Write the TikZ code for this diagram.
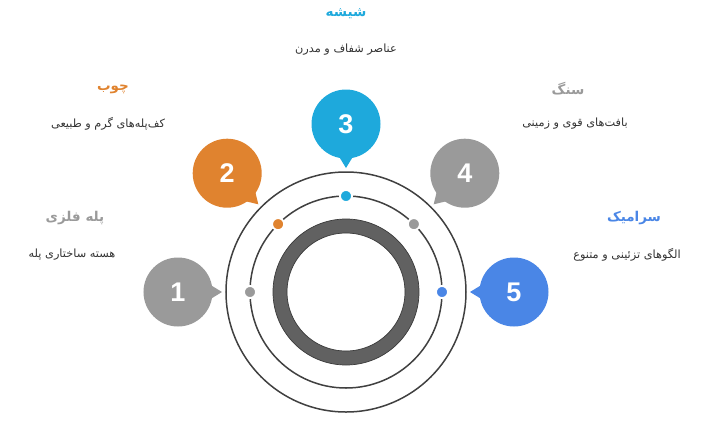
\documentclass[tikz,border=0pt]{standalone}
\usepackage{fontspec}
\newfontfamily\arabicfont[Script=Arabic]{DejaVu Sans}
\newfontfamily\numfont{Liberation Sans}
\TeXXeTstate=1
\definecolor{pgray}{HTML}{9A9A9A}
\definecolor{porange}{HTML}{E0832F}
\definecolor{psky}{HTML}{1EA9DC}
\definecolor{pblue}{HTML}{4A86E6}
\definecolor{ringgray}{HTML}{616161}
\definecolor{ringdark}{HTML}{3A3A3A}

\begin{document}
\begin{tikzpicture}[x=1pt,y=1pt,
  bubble/.style={circle,minimum size=69pt,inner sep=0pt,text=white,font=\numfont\bfseries\fontsize{27}{27}\selectfont},
  dot/.style={circle,minimum size=12pt,inner sep=0pt,draw=white,line width=1.8pt},
  title/.style={font=\arabicfont\bfseries\fontsize{13.5}{15}\selectfont},
  desc/.style={font=\arabicfont\fontsize{11.3}{13}\selectfont,text=black!80}]
\useasboundingbox (-346,-132) rectangle (368,292);

% rings
\draw[line width=1.5pt,black!75] (0,0) circle (120pt);
\draw[line width=1.5pt,black!75] (0,0) circle (96pt);
\draw[line width=14pt,ringgray] (0,0) circle (66pt);
\draw[ringdark,line width=0.7pt] (0,0) circle (73pt) (0,0) circle (59pt);

% bubbles and dots
\foreach \a/\n/\c in {180/1/pgray,135/2/porange,90/3/psky,45/4/pgray,0/5/pblue}{
  \fill[\c,rotate=\a] (124,0) -- (142,11) -- (142,-11) -- cycle;
  \node[bubble,fill=\c] (bubble\n) at (\a:168) {\n};
  \node[dot,fill=\c] (dot\n) at (\a:96) {};
}

% labels
\node[title,text=pgray] (title1) at (-271,74) {\beginR پله فلزی\endR};
\node[desc] (desc1) at (-274,37) {\beginR هسته ساختاری پله\endR};
\node[title,text=porange] (title2) at (-233,203) {\beginR چوب\endR};
\node[desc] (desc2) at (-238,168) {\beginR کف‌پله‌های گرم و طبیعی\endR};
\node[title,text=psky] (title3) at (0,278) {\beginR شیشه\endR};
\node[desc] (desc3) at (0,242) {\beginR عناصر شفاف و مدرن\endR};
\node[title,text=pgray] (title4) at (222,203) {\beginR سنگ\endR};
\node[desc] (desc4) at (229,168) {\beginR بافت‌های قوی و زمینی\endR};
\node[title,text=pblue] (title5) at (288,74) {\beginR سرامیک\endR};
\node[desc] (desc5) at (281,37) {\beginR الگوهای تزئینی و متنوع\endR};
\end{tikzpicture}
\end{document}
